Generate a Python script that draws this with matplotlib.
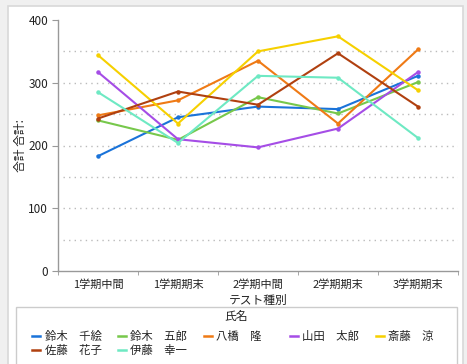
import matplotlib.pyplot as plt
from matplotlib.patches import Rectangle

plt.rcParams['font.family'] = ['Noto Sans CJK JP', 'DejaVu Sans']

# test types (x categories)
tests = ['1学期中間', '1学期期末', '2学期中間', '2学期期末', '3学期期末']

# students (legend order)
names = ['鈴木　千絵', '鈴木　五郎', '八橋　隆', '山田　太郎', '斎藤　涼', '佐藤　花子', '伊藤　幸一']
colors = ['#1a73d9', '#77c84b', '#ef7a15', '#a54de6', '#f6d000', '#b0400f', '#6ee9c3']

# total scores per student, one value per test type
suzuki_chie = [183, 245, 262, 258, 311]
suzuki_goro = [240, 209, 277, 251, 301]
yatsuhashi_takashi = [248, 272, 335, 235, 353]
yamada_taro = [317, 210, 197, 227, 317]
saito_ryo = [344, 235, 350, 374, 288]
sato_hanako = [243, 286, 265, 347, 262]
ito_koichi = [285, 204, 311, 308, 212]
scores = [suzuki_chie, suzuki_goro, yatsuhashi_takashi, yamada_taro,
          saito_ryo, sato_hanako, ito_koichi]

W, H = 467, 364
fig = plt.figure(figsize=(W / 100, H / 100), dpi=100, facecolor='#f0f0f0')

# white panel with light border
fig.patches.append(Rectangle((8 / W, -0.01), 455 / W, 1 - 6 / H + 0.01,
                             transform=fig.transFigure, facecolor='white',
                             edgecolor='#d8d8d8', linewidth=1.2, zorder=-2))

ax = fig.add_axes([58 / W, 1 - 271 / H, 400 / W, 251 / H])
ax.set_facecolor('none')

x = list(range(len(tests)))
lines = []
for name, col, vals in zip(names, colors, scores):
    ln, = ax.plot(x, vals, color=col, lw=1.5, marker='o', markersize=2.2,
                  label=name, zorder=3)
    lines.append(ln)

# dotted grid every 50
for g in range(50, 400, 50):
    ax.axhline(g, xmin=0.012, color='#bbbbbb', lw=1, ls=(0, (1, 3)), zorder=1)

ax.set_xlim(-0.5, 4.5)
ax.set_ylim(0, 400)
ax.set_yticks(range(0, 401, 100))
ax.set_xticks(x)
ax.set_xticklabels(tests)
ax.set_xticks([i + 0.5 for i in range(-1, 5)], minor=True)
ax.tick_params(axis='x', which='major', length=0, pad=6, labelsize=8, labelcolor='#222222')
ax.tick_params(axis='x', which='minor', length=3, color='#999999')
ax.tick_params(axis='y', length=4, color='#999999', labelsize=8.5, labelcolor='#222222', pad=3)

for s in ['top', 'right']:
    ax.spines[s].set_visible(False)
for s in ['left', 'bottom']:
    ax.spines[s].set_color('#999999')
    ax.spines[s].set_linewidth(1)

ax.set_xlabel('テスト種別', fontsize=8.5, color='#222222', labelpad=3)
ax.set_ylabel('合計 合計:', fontsize=8.5, color='#222222', labelpad=1)

# legend box
fig.patches.append(Rectangle((16 / W, -0.01), 441 / W, 1 - 307 / H + 0.01,
                             transform=fig.transFigure, facecolor='white',
                             edgecolor='#cccccc', linewidth=1, zorder=-1))
fig.text(236.5 / W, 1 - 316 / H, '氏名', ha='center', va='center',
         fontsize=8.5, color='#222222')

# row-major order for a 2-row, 5-column legend
order = [0, 5, 1, 6, 2, 3, 4]
leg = fig.legend([lines[i] for i in order],
                 [names[i].ljust(5, '\u3000') for i in order],
                 ncol=5, loc='upper left', bbox_to_anchor=(32 / W, 1 - 331 / H),
                 frameon=False, fontsize=8.2, handlelength=0.7,
                 handletextpad=0.4, columnspacing=1.45, labelspacing=0.25,
                 borderpad=0, borderaxespad=0)
for t in leg.get_texts():
    t.set_color('#222222')
for h in leg.legend_handles:
    h.set_marker('')
    h.set_linewidth(1.8)

fig.savefig('out.png', dpi=100, facecolor=fig.get_facecolor())
